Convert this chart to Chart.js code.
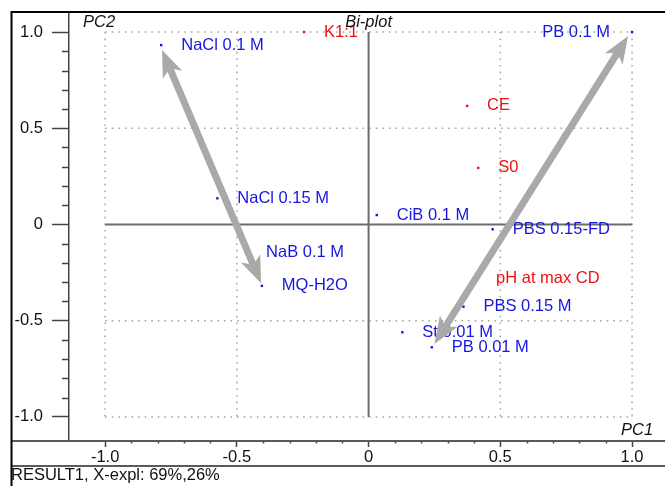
<!DOCTYPE html>
<html>
<head>
<meta charset="utf-8">
<script src="https://cdn.jsdelivr.net/npm/chart.js@4.4.1/dist/chart.umd.min.js"></script>
<style>
  html, body { margin: 0; padding: 0; background: #ffffff; }
  #wrap { width: 665px; height: 486px; }
</style>
</head>
<body>
<div id="wrap"><canvas id="c" width="665" height="486"></canvas></div>
<script>
// Sample scores (blue) on PC1 / PC2
const sampleNames = ['NaCl 0.1 M', 'PB 0.1 M', 'NaCl 0.15 M', 'CiB 0.1 M', 'PBS 0.15-FD',
                     'NaB 0.1 M', 'MQ-H2O', 'PBS 0.15 M', 'St 0.01 M', 'PB 0.01 M'];
const samplePC1 = [-0.787, 1.000, -0.574, 0.031, 0.471, -0.465, -0.405, 0.360, 0.128, 0.240];
const samplePC2 = [0.932, 1.000, 0.136, 0.049, -0.025, -0.143, -0.319, -0.427, -0.560, -0.638];

// Variable loadings (red) on PC1 / PC2
const variableNames = ['K1:1', 'CE', 'S0', 'pH at max CD'];
const variablePC1 = [-0.245, 0.374, 0.416, 0.408];
const variablePC2 = [1.000, 0.616, 0.294, -0.278];

// Double-headed trend arrows (start / end in PC units)
const arrowStartPC1 = [-0.784, 0.985];
const arrowStartPC2 = [0.907, 0.979];
const arrowEndPC1 = [-0.408, 0.250];
const arrowEndPC2 = [-0.305, -0.621];

// Axis ticks
const majorTicks = [-1.0, -0.5, 0, 0.5, 1.0];
const tickLabels = ['-1.0', '-0.5', '0', '0.5', '1.0'];

const FONT = "'Liberation Sans', Arial, Helvetica, sans-serif";
const BLUE = '#1616e0';
const RED = '#f01010';
const labelLeftOf = new Set(['PB 0.1 M']);

function toPoints(xs, ys) { return xs.map((x, i) => ({ x: x, y: ys[i] })); }

const biplotPlugin = {
  id: 'biplot',
  beforeDatasetsDraw(chart) {
    const { ctx, scales: { x, y } } = chart;
    ctx.save();
    // dotted reference box and half-unit lines
    ctx.strokeStyle = '#a4a4a4';
    ctx.lineWidth = 1.5;
    ctx.setLineDash([1.6, 5]);
    [-1, -0.5, 0.5, 1].forEach(v => {
      ctx.beginPath();
      ctx.moveTo(x.getPixelForValue(v), y.getPixelForValue(1));
      ctx.lineTo(x.getPixelForValue(v), y.getPixelForValue(-1));
      ctx.stroke();
      ctx.beginPath();
      ctx.moveTo(x.getPixelForValue(-1), y.getPixelForValue(v));
      ctx.lineTo(x.getPixelForValue(1), y.getPixelForValue(v));
      ctx.stroke();
    });
    // solid zero lines
    ctx.setLineDash([]);
    ctx.strokeStyle = '#6c6c6c';
    ctx.lineWidth = 2;
    ctx.beginPath();
    ctx.moveTo(x.getPixelForValue(0), y.getPixelForValue(1));
    ctx.lineTo(x.getPixelForValue(0), y.getPixelForValue(-1));
    ctx.moveTo(x.getPixelForValue(-1), y.getPixelForValue(0));
    ctx.lineTo(x.getPixelForValue(1), y.getPixelForValue(0));
    ctx.stroke();
    ctx.restore();
  },
  afterDatasetsDraw(chart) {
    const { ctx, scales: { x, y } } = chart;
    ctx.save();
    // point labels
    ctx.font = '16.5px ' + FONT;
    ctx.textBaseline = 'middle';
    chart.data.datasets.forEach((ds, di) => {
      const meta = chart.getDatasetMeta(di);
      ctx.fillStyle = ds.pointBackgroundColor;
      meta.data.forEach((pt, j) => {
        const name = ds.names[j];
        if (labelLeftOf.has(name)) {
          ctx.textAlign = 'right';
          ctx.fillText(name, pt.x - 22, pt.y);
        } else {
          ctx.textAlign = 'left';
          ctx.fillText(name, pt.x + 20, pt.y);
        }
      });
    });

    // double-headed arrows
    ctx.fillStyle = '#a9a9a9';
    ctx.strokeStyle = '#a9a9a9';
    const L = 27, W = 10.5, N = 7, S = 7;
    arrowStartPC1.forEach((_, i) => {
      const x1 = x.getPixelForValue(arrowStartPC1[i]), y1 = y.getPixelForValue(arrowStartPC2[i]);
      const x2 = x.getPixelForValue(arrowEndPC1[i]), y2 = y.getPixelForValue(arrowEndPC2[i]);
      const len = Math.hypot(x2 - x1, y2 - y1);
      const ux = (x2 - x1) / len, uy = (y2 - y1) / len;
      const nx = -uy, ny = ux;
      ctx.lineWidth = S;
      ctx.lineCap = 'butt';
      ctx.beginPath();
      ctx.moveTo(x1 + ux * (L - N), y1 + uy * (L - N));
      ctx.lineTo(x2 - ux * (L - N), y2 - uy * (L - N));
      ctx.stroke();
      [[x1, y1, -ux, -uy], [x2, y2, ux, uy]].forEach(([tx, ty, dx, dy]) => {
        ctx.beginPath();
        ctx.moveTo(tx, ty);
        ctx.lineTo(tx - dx * L + nx * W, ty - dy * L + ny * W);
        ctx.lineTo(tx - dx * (L - N), ty - dy * (L - N));
        ctx.lineTo(tx - dx * L - nx * W, ty - dy * L - ny * W);
        ctx.closePath();
        ctx.fill();
      });
    });
    ctx.restore();
  },
  afterDraw(chart) {
    const { ctx, scales: { x, y }, chartArea } = chart;
    const W = chart.width, H = chart.height;
    ctx.save();
    // minor ticks
    ctx.strokeStyle = '#444';
    ctx.lineWidth = 1.5;
    ctx.beginPath();
    for (let k = -9; k <= 9; k++) {
      if (k % 5 === 0) continue;
      const py = Math.round(y.getPixelForValue(k / 10)) + 0.5;
      ctx.moveTo(chartArea.left, py);
      ctx.lineTo(chartArea.left - 7, py);
      const px = Math.round(x.getPixelForValue(k / 10)) + 0.5;
      ctx.moveTo(px, chartArea.bottom);
      ctx.lineTo(px, chartArea.bottom + 2.5);
    }
    ctx.stroke();

    // horizontal rules of the axis band
    ctx.strokeStyle = '#5a5a5a';
    ctx.lineWidth = 1.8;
    ctx.beginPath();
    ctx.moveTo(11, chartArea.bottom);
    ctx.lineTo(W, chartArea.bottom);
    ctx.moveTo(11, x.bottom);
    ctx.lineTo(W, x.bottom);
    ctx.stroke();

    // outer frame
    ctx.strokeStyle = '#000';
    ctx.lineWidth = 2;
    ctx.beginPath();
    ctx.moveTo(11.5, H);
    ctx.lineTo(11.5, 12);
    ctx.lineTo(W, 12);
    ctx.stroke();

    // axis titles
    ctx.fillStyle = '#111';
    ctx.font = 'italic 16.5px ' + FONT;
    ctx.textBaseline = 'middle';
    ctx.textAlign = 'left';
    ctx.fillText('PC2', chartArea.left + 14, 22);
    ctx.textAlign = 'center';
    ctx.fillText('Bi-plot', x.getPixelForValue(0), 22);
    ctx.fillText('PC1', x.getPixelForValue(1) + 5, y.getPixelForValue(-1) + 13);

    // footer
    ctx.font = '16.5px ' + FONT;
    ctx.textAlign = 'left';
    ctx.fillText('RESULT1, X-expl: 69%,26%', 11, 475);
    ctx.restore();
  }
};

const tickFont = { family: FONT, size: 16.5 };

new Chart(document.getElementById('c'), {
  type: 'scatter',
  data: {
    datasets: [
      {
        names: sampleNames,
        data: toPoints(samplePC1, samplePC2),
        pointBackgroundColor: BLUE,
        pointBorderWidth: 0,
        pointRadius: 1.7,
        pointStyle: 'rect'
      },
      {
        names: variableNames,
        data: toPoints(variablePC1, variablePC2),
        pointBackgroundColor: RED,
        pointBorderWidth: 0,
        pointRadius: 1.7,
        pointStyle: 'rect'
      }
    ]
  },
  options: {
    responsive: false,
    animation: false,
    devicePixelRatio: 1,
    layout: { autoPadding: false, padding: { left: 11, top: 12, right: 0, bottom: 20 } },
    plugins: { legend: { display: false }, tooltip: { enabled: false }, title: { display: false } },
    scales: {
      x: {
        type: 'linear',
        position: 'bottom',
        min: -1.137,
        max: 1.125,
        afterBuildTicks: s => { s.ticks = majorTicks.map(v => ({ value: v })); },
        afterFit: s => { s.height = 25; s.paddingLeft = 0; s.paddingRight = 0; },
        ticks: {
          autoSkip: false,
          maxRotation: 0,
          padding: 1,
          color: '#111',
          font: tickFont,
          callback: v => tickLabels[majorTicks.indexOf(v)]
        },
        grid: { drawOnChartArea: false, drawTicks: true, tickLength: 6, tickColor: '#444', tickWidth: 1.5 },
        border: { display: false }
      },
      y: {
        type: 'linear',
        position: 'left',
        min: -1.125,
        max: 1.104,
        afterBuildTicks: s => { s.ticks = majorTicks.map(v => ({ value: v })); },
        afterFit: s => { s.width = 58; s.paddingTop = 0; s.paddingBottom = 0; },
        ticks: {
          autoSkip: false,
          padding: 9,
          color: '#111',
          font: tickFont,
          callback: v => tickLabels[majorTicks.indexOf(v)]
        },
        grid: { drawOnChartArea: false, drawTicks: true, tickLength: 17, tickColor: '#444', tickWidth: 1.5 },
        border: { display: true, color: '#444', width: 1.5 }
      }
    }
  },
  plugins: [biplotPlugin]
});
</script>
</body>
</html>
